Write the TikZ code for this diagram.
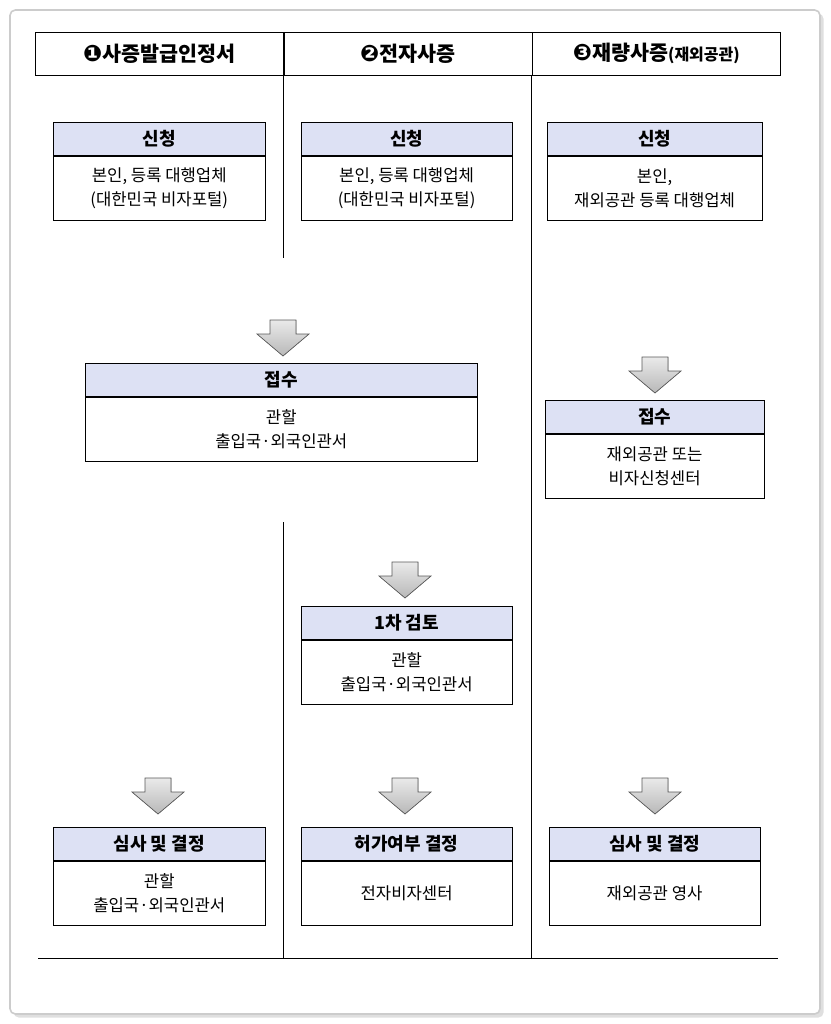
\documentclass[tikz,border=0pt]{standalone}
\usepackage{fontspec}
\setmainfont{Noto Sans CJK KR}
\newfontfamily\dingfont{DejaVu Sans}
\usepackage{xcolor}
\usetikzlibrary{positioning,shadows}
\definecolor{titlefill}{HTML}{DDE1F4}
\definecolor{arrowfill}{HTML}{B8B8B8}
\begin{document}
\begin{tikzpicture}[x=0.75pt, y=-0.75pt, font=\fontsize{12.5}{18}\selectfont]
\tikzset{
    head/.style={draw, fill=titlefill, minimum height=25pt, font=\fontsize{13.5}{16}\selectfont\bfseries, inner sep=0pt},
    body/.style={draw, minimum height=48pt, align=center, inner sep=0pt},
    hdr/.style={draw, minimum height=32pt, minimum width=186pt, font=\fontsize{15.5}{18}\selectfont\bfseries, inner sep=0pt},
    pointer/.pic={\fill[top color=white!70!arrowfill, bottom color=arrowfill, draw=gray!70!black, line width=0.5pt]
        (-13,0) -- (13,0) -- (13,14) -- (26,14) -- (0,36) -- (-26,14) -- (-13,14) -- cycle;}
}
\useasboundingbox (0,0) rectangle (831,1024);
% frame
\draw[gray!40, line width=1.2pt, rounded corners=4pt, drop shadow={opacity=0.25}, fill=white] (10,10) rectangle (820,1014);

% header row
\node[hdr, anchor=north west] (h1) at (35,32) {{\dingfont\fontsize{17}{18}\selectfont ❶}사증발급인정서};
\node[hdr, right=0pt of h1] (h2) {{\dingfont\fontsize{17}{18}\selectfont ❷}전자사증};
\node[hdr, right=0pt of h2] (h3) {{\dingfont\fontsize{17}{18}\selectfont ❸}재량사증{\fontsize{12}{13}\selectfont(재외공관)}};

% column lines
\draw (283,75) -- (283,258);
\draw (283,522) -- (283,958);
\draw (531,75) -- (531,958);
\draw (38,958) -- (778,958);

% step 1
\node[head, minimum width=159pt, anchor=north west] (app1) at (53,122) {신청};
\node[body, minimum width=159pt, below=0pt of app1] (app1b) {본인, 등록 대행업체\\(대한민국 비자포털)};
\node[head, minimum width=158pt, anchor=north west] (app2) at (301,122) {신청};
\node[body, minimum width=158pt, below=0pt of app2] (app2b) {본인, 등록 대행업체\\(대한민국 비자포털)};
\node[head, minimum width=161pt, anchor=north west] (app3) at (547,122) {신청};
\node[body, minimum width=161pt, below=0pt of app3] (app3b) {본인,\\재외공관 등록 대행업체};

% receipt
\pic at (283,320) {pointer};
\node[head, minimum width=294pt, anchor=north west] (rec1) at (85,363) {접수};
\node[body, minimum width=294pt, below=0pt of rec1] (rec1b) {관할\\출입국·외국인관서};
\pic at (655,357) {pointer};
\node[head, minimum width=164pt, anchor=north west] (rec3) at (545,400) {접수};
\node[body, minimum width=164pt, below=0pt of rec3] (rec3b) {재외공관 또는\\비자신청센터};

% first review
\pic at (405,562) {pointer};
\node[head, minimum width=158pt, anchor=north west] (rev2) at (301,606) {1차 검토};
\node[body, minimum width=158pt, below=0pt of rev2] (rev2b) {관할\\출입국·외국인관서};

% decision
\pic at (158,778) {pointer};
\pic at (405,778) {pointer};
\pic at (655,778) {pointer};
\node[head, minimum width=159pt, anchor=north west] (dec1) at (53,827) {심사 및 결정};
\node[body, minimum width=159pt, below=0pt of dec1] (dec1b) {관할\\출입국·외국인관서};
\node[head, minimum width=158pt, anchor=north west] (dec2) at (301,827) {허가여부 결정};
\node[body, minimum width=158pt, below=0pt of dec2] (dec2b) {전자비자센터};
\node[head, minimum width=158pt, anchor=north west] (dec3) at (549,827) {심사 및 결정};
\node[body, minimum width=158pt, below=0pt of dec3] (dec3b) {재외공관 영사};
\end{tikzpicture}
\end{document}
